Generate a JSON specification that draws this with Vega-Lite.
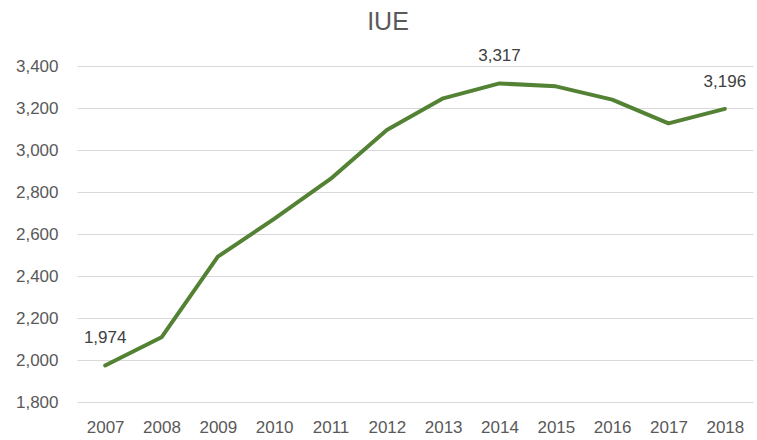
{
  "$schema": "https://vega.github.io/schema/vega-lite/v6.json",
  "width": 676,
  "height": 336,
  "autosize": {"type": "none"},
  "padding": {"left": 77, "top": 66, "right": 4, "bottom": 38},
  "title": {"text": "IUE", "fontSize": 25, "font": "Liberation Sans", "fontWeight": "normal", "color": "#595959", "anchor": "middle", "frame": "group", "offset": 12, "dx": -27},
  "data": {"values": [
    {"year": "2007", "value": 1974},
    {"year": "2008", "value": 2108},
    {"year": "2009", "value": 2492},
    {"year": "2010", "value": 2672},
    {"year": "2011", "value": 2862},
    {"year": "2012", "value": 3095},
    {"year": "2013", "value": 3246},
    {"year": "2014", "value": 3317},
    {"year": "2015", "value": 3303},
    {"year": "2016", "value": 3240},
    {"year": "2017", "value": 3127},
    {"year": "2018", "value": 3196}
  ]},
  "encoding": {
    "x": {"field": "year", "type": "ordinal", "scale": {"type": "point", "padding": 0.5},
      "axis": {"title": null, "labelAngle": 0, "domain": false, "ticks": false, "grid": false, "labelPadding": 17, "labelFontSize": 17, "labelFont": "Liberation Sans", "labelColor": "#595959"}},
    "y": {"field": "value", "type": "quantitative", "scale": {"domain": [1800, 3400], "nice": false, "zero": false},
      "axis": {"title": null, "values": [1800, 2000, 2200, 2400, 2600, 2800, 3000, 3200, 3400], "format": ",.0f", "domain": false, "ticks": false, "grid": true, "gridColor": "#d9d9d9", "gridWidth": 1, "labelPadding": 19, "labelFontSize": 17, "labelFont": "Liberation Sans", "labelColor": "#595959"}}
  },
  "layer": [
    {"mark": {"type": "line", "color": "#548235", "strokeWidth": 4, "strokeCap": "round", "strokeJoin": "round"}},
    {"transform": [{"filter": {"field": "year", "oneOf": ["2007", "2014", "2018"]}}],
     "mark": {"type": "text", "dy": -27, "baseline": "middle", "align": "center", "fontSize": 17, "font": "Liberation Sans", "color": "#404040"},
     "encoding": {"text": {"field": "value", "type": "quantitative", "format": ",.0f"}}}
  ],
  "config": {"view": {"stroke": null}}
}
